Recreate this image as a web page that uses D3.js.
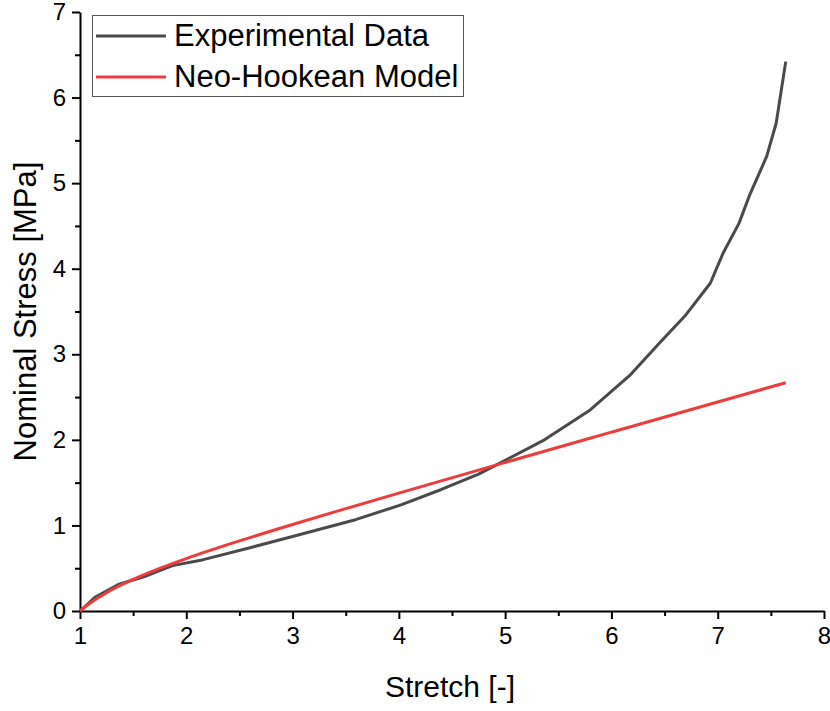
<!DOCTYPE html>
<html><head><meta charset="utf-8">
<script src="https://cdn.jsdelivr.net/npm/d3@7"></script>
<style>body{margin:0;background:#fff}svg{display:block;font-family:"Liberation Sans",Arial,sans-serif}</style>
</head><body><svg id="c" width="830" height="711"></svg>
<script>
const seriesNames = ["Experimental Data", "Neo-Hookean Model"];
const expStretch = [1,1.14,1.36,1.6,1.87,2.16,2.6,3.0,3.6,4.02,4.4,4.75,5.0,5.37,5.8,6.17,6.45,6.7,6.93,7.05,7.2,7.3,7.46,7.55,7.64];
const expStress  = [0,0.16,0.31,0.4,0.53,0.6,0.74,0.87,1.07,1.24,1.42,1.6,1.76,2.0,2.35,2.75,3.13,3.46,3.83,4.18,4.53,4.86,5.31,5.7,6.42];
const nhStretch = [1,1.1,1.25,1.5,1.75,2,2.5,3,3.5,4,5,6,7,7.64];
const nhStress  = [0,0.096,0.214,0.369,0.498,0.613,0.819,1.011,1.196,1.378,1.736,2.090,2.443,2.668];
const xTicks = [1,2,3,4,5,6,7,8];
const yTicks = [0,1,2,3,4,5,6,7];

const svg = d3.select("#c");
const L=80,R=824,T=12,B=611;
const x = d3.scaleLinear().domain([1,8]).range([L,R]);
const y = d3.scaleLinear().domain([0,7]).range([B,T]);

const xMinor = d3.range(1.5,8,1), yMinor = d3.range(0.5,7,1);
const gx = svg.append("g").attr("transform",`translate(0,${B})`);
gx.call(d3.axisBottom(x).tickValues(xMinor).tickSize(5).tickFormat(""));
gx.call(g=>g.selectAll(".domain").remove());
svg.append("g").attr("transform",`translate(0,${B})`)
  .call(d3.axisBottom(x).tickValues(xTicks).tickSize(8).tickSizeOuter(0).tickPadding(8).tickFormat(d3.format("d")));
const gy = svg.append("g").attr("transform",`translate(${L},0)`);
gy.call(d3.axisLeft(y).tickValues(yMinor).tickSize(5).tickFormat(""));
gy.call(g=>g.selectAll(".domain").remove());
svg.append("g").attr("transform",`translate(${L},0)`)
  .call(d3.axisLeft(y).tickValues(yTicks).tickSize(8).tickSizeOuter(0).tickPadding(6).tickFormat(d3.format("d")));
svg.selectAll(".domain,.tick line").attr("stroke","#000").attr("stroke-width",2);
svg.selectAll(".tick text").attr("font-size",24).attr("fill","#000").attr("font-family","Liberation Sans, Arial, sans-serif");

svg.append("text").attr("x",(L+R)/2-2).attr("y",697).attr("text-anchor","middle")
  .attr("font-size",30).text("Stretch [-]");
svg.append("text").attr("transform",`translate(36,${(T+B)/2}) rotate(-90)`).attr("text-anchor","middle")
  .attr("font-size",31).text("Nominal Stress [MPa]");

const colors = ["#4a4a4a","#ee3c3c"];
const expData = expStretch.map((s,i)=>[s,expStress[i]]);
const nhData = nhStretch.map((s,i)=>[s,nhStress[i]]);
svg.append("path").datum(expData).attr("d",d3.line().x(d=>x(d[0])).y(d=>y(d[1]))).attr("fill","none")
  .attr("stroke",colors[0]).attr("stroke-width",3).attr("stroke-linejoin","round");
svg.append("path").datum(nhData).attr("d",d3.line().x(d=>x(d[0])).y(d=>y(d[1])).curve(d3.curveMonotoneX)).attr("fill","none")
  .attr("stroke",colors[1]).attr("stroke-width",3).attr("stroke-linejoin","round");

const lg = svg.append("g");
lg.append("rect").attr("x",92.5).attr("y",15.5).attr("width",371).attr("height",81)
  .attr("fill","#fff").attr("stroke","#555").attr("stroke-width",1);
seriesNames.forEach((n,i)=>{
  const yy = 36 + i*41;
  lg.append("line").attr("x1",96).attr("x2",166).attr("y1",yy).attr("y2",yy)
    .attr("stroke",colors[i]).attr("stroke-width",3);
  lg.append("text").attr("x",174).attr("y",yy+10).attr("font-size",31).text(n);
});
</script></body></html>
